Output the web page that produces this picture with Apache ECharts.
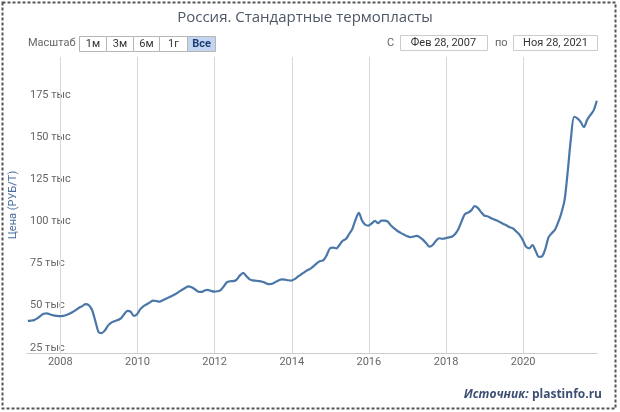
<!DOCTYPE html>
<html>
<head>
<meta charset="utf-8">
<script src="https://cdn.jsdelivr.net/npm/echarts@6/dist/echarts.min.js"></script>
<style>
html,body{margin:0;padding:0;background:#fff;}
#chart{width:620px;height:412px;}
</style>
</head>
<body>
<div id="chart"></div>
<script>
// ---- data ----
var titleText = 'Россия. Стандартные термопласты';
var yAxisTitle = 'Цена (РУБ/Т)';
var startYear = 2007, startMonth = 1; // Feb 2007 (0-based month), day 28
var endDate = [2021, 10, 28];         // Nov 28, 2021
// monthly price, thousand RUB per tonne, Feb 2007 .. Nov 2021
var prices = [
 41,41.2,41.5,42.5,44,45.3,45.5,44.8,44.3,44,43.8,44,
 44.5,45.3,46.3,47.5,48.8,49.8,51,50.3,47.5,41,34.5,33.8,
 35.5,38.2,40,40.8,41.5,42.5,45,47,46.5,44,45,48,
 49.8,50.8,52,53,52.8,52.4,53.2,54.2,55,56,57,58.2,
 59.5,60.5,61.5,61,59.8,58.5,58.2,59,59.4,58.8,58.4,58.6,
 59.3,61.5,64,64.5,64.6,65.5,68,69.5,67.5,65.6,65,64.8,
 64.6,64.2,63.5,62.8,63,64,65,65.6,65.5,65.1,64.9,65.8,
 67.2,68.4,69.8,71,72,73.5,75.3,76.5,77,80,84,84.5,
 84,86,88.5,89.5,92.5,95.5,101,105,100.5,98,97.5,98.8,
 100.3,98.9,100.5,100.5,99.8,97.5,95.8,94.3,93.2,92.2,91.2,90.6,
 91,91.4,90.5,89,87,85,86,88.5,90,89.7,90,90.5,
 91,92.5,95.5,100,104.3,105.2,106.5,109,108,105.5,103.5,103,
 102,101.2,100.5,99.5,98.5,97.6,96.5,95.8,94,92,89,85,
 84,86,82.5,79,79.3,83.5,90.5,93,95,99.5,105,113,
 131,149,162,161,159,155.8,160,163,165.6,171.5
];
var yTicks = [25,50,75,100,125,150,175];
var xTickYears = [2008,2010,2012,2014,2016,2018,2020];
var rangeButtons = ['1м','3м','6м','1г','Все'];
var fromLabel = 'Фев 28, 2007';
var toLabel = 'Ноя 28, 2021';

// ---- build ----
var seriesData = prices.map(function(v, i){
  return [Date.UTC(startYear, startMonth + i, 28), v];
});
var xMin = Date.UTC(startYear, startMonth, 20);
var xMax = Date.UTC(endDate[0], endDate[1], endDate[2] + 2);
var yearTs = xTickYears.map(function(y){ return Date.UTC(y,0,1); });

var chart = echarts.init(document.getElementById('chart'), null, {renderer:'canvas'});

var F = '11px Roboto, "Open Sans", sans-serif';
var btnX = [79,106,133,159,187,215];
var graphics = [
  {type:'rect', shape:{x:2.5,y:2.5,width:613,height:406}, style:{fill:'none', stroke:'#555', lineWidth:2, lineDash:[3,2]}, silent:true},
  {type:'text', x:28, y:43, style:{text:'Масштаб', fill:'#666', font:F, verticalAlign:'middle'}},
  {type:'text', x:387, y:43, style:{text:'С', fill:'#666', font:F, verticalAlign:'middle'}},
  {type:'rect', shape:{x:400.5,y:35.5,width:87,height:15}, style:{fill:'#fff', stroke:'#ccc', lineWidth:1}},
  {type:'text', x:443.5, y:43, style:{text:fromLabel, fill:'#333', font:F, align:'center', verticalAlign:'middle'}},
  {type:'text', x:495, y:43, style:{text:'по', fill:'#666', font:F, verticalAlign:'middle'}},
  {type:'rect', shape:{x:513.5,y:35.5,width:84,height:15}, style:{fill:'#fff', stroke:'#ccc', lineWidth:1}},
  {type:'text', x:555.5, y:43, style:{text:toLabel, fill:'#333', font:F, align:'center', verticalAlign:'middle'}},
  {type:'text', right:18, y:395, style:{
    text:'{a|Источник:} {b|plastinfo.ru}',
    rich:{
      a:{fontFamily:'"Open Sans", sans-serif', fontSize:12, fontStyle:'italic', fontWeight:'bold', fill:'#3d4f72'},
      b:{fontFamily:'"Open Sans", sans-serif', fontSize:12, fontWeight:'bold', fill:'#3d4f72'}
    }, verticalAlign:'middle'}}
];
rangeButtons.forEach(function(t, i){
  var sel = (i === rangeButtons.length - 1);
  graphics.push({type:'rect', shape:{x:btnX[i]+0.5, y:36.5, width:btnX[i+1]-btnX[i], height:15},
    style:{fill: sel ? '#c3d5f0' : '#fff', stroke:'#b5b5b5', lineWidth:1}});
  graphics.push({type:'text', x:(btnX[i]+btnX[i+1])/2+0.5, y:44,
    style:{text:t, fill: sel ? '#1d3c74' : '#333', font:(sel?'bold ':'')+F, align:'center', verticalAlign:'middle'}});
});

chart.setOption({
  animation:false,
  backgroundColor:'#fff',
  title:{text:titleText, left:300, top:5, textAlign:'center',
    textStyle:{fontFamily:'"Open Sans", sans-serif', fontSize:15, fontWeight:'normal', color:'#4d5766'}},
  grid:{left:25, right:23, top:57, bottom:59, containLabel:false},
  xAxis:{
    type:'value', min:xMin, max:xMax,
    axisLine:{show:true, onZero:false, lineStyle:{color:'#ccc', width:1}},
    axisTick:{show:false},
    splitLine:{show:false},
    axisLabel:{
      customValues: yearTs,
      formatter:function(v){ return String(new Date(v).getUTCFullYear()); },
      color:'#666', fontSize:11, fontFamily:'Roboto, sans-serif', margin:4
    }
  },
  yAxis:{
    type:'value', min:22, max:197.4,
    name:yAxisTitle, nameLocation:'middle', nameRotate:90, nameGap:8,
    nameTextStyle:{color:'#4a6d9c', fontSize:11, fontFamily:'Roboto, sans-serif'},
    axisLine:{show:false}, axisTick:{show:false}, splitLine:{show:false},
    axisLabel:{
      customValues: yTicks, inside:true, margin:3,
      formatter:function(v){ return v + ' тыс'; },
      color:'#666', fontSize:11, fontFamily:'Roboto, sans-serif'
    }
  },
  series:[{
    type:'line', data:seriesData, showSymbol:false, smooth:0.3,
    lineStyle:{color:'#4a76a8', width:2.2},
    itemStyle:{color:'#4a76a8'},
    z:3,
    markLine:{
      silent:true, symbol:['none','none'], label:{show:false},
      lineStyle:{color:'#d8d8d8', width:1, type:'solid'},
      data: yearTs.map(function(t){ return {xAxis:t}; }),
      z:1
    }
  }],
  graphic:graphics
});
</script>
</body>
</html>
